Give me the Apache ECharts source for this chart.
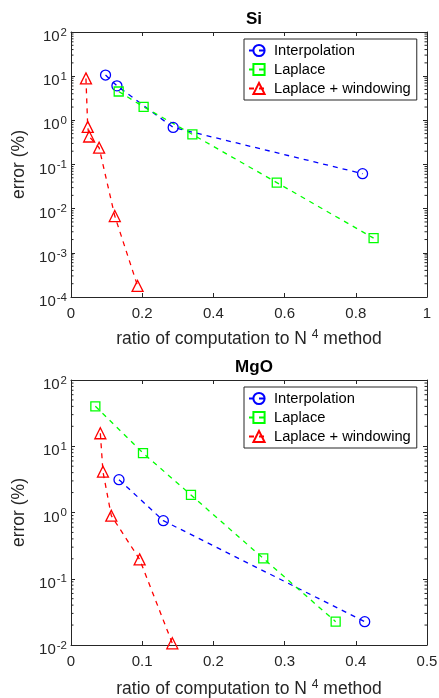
<!DOCTYPE html>
<html>
<head>
<meta charset="utf-8">
<script src="https://cdn.jsdelivr.net/npm/echarts@6/dist/echarts.min.js"></script>
<style>
  html, body { margin: 0; padding: 0; background: #fff; }
  #chart { width: 439px; height: 698px; }
</style>
</head>
<body>
<div id="chart"></div>
<script>
// Si panel
var siInterpX = [0.097, 0.129, 0.287, 0.819]
var siInterpY = [10.6, 6.05, 0.69, 0.062]
var siLapX = [0.134, 0.204, 0.341, 0.578, 0.850]
var siLapY = [4.5, 2.02, 0.48, 0.039, 0.00215]
var siWinX = [0.042, 0.047, 0.051, 0.079, 0.123, 0.187]
var siWinY = [8.9, 0.71, 0.43, 0.24, 0.0068, 0.000178]

// MgO panel
var mgoInterpX = [0.0674, 0.1297, 0.4125]
var mgoInterpY = [3.13, 0.753, 0.0225]
var mgoLapX = [0.0342, 0.1011, 0.1685, 0.270, 0.3717]
var mgoLapY = [40.1, 7.9, 1.84, 0.203, 0.0225]
var mgoWinX = [0.0412, 0.0449, 0.0566, 0.0964, 0.1423]
var mgoWinY = [15.7, 4.13, 0.895, 0.196, 0.0106]

var titles = ['Si', 'MgO']
var seriesNames = ['Interpolation', 'Laplace', 'Laplace + windowing']
var xMax = [1, 0.5]
var xStep = [0.2, 0.1]
var yMin = [1e-4, 1e-2]
var yMax = [1e2, 1e2]

var font = '"Liberation Sans", Helvetica, Arial, sans-serif'
var axisColor = '#262626'
var gridTops = [32, 380]
var nameGaps = [32, 34]

function zip(xs, ys) {
  return xs.map(function (x, i) { return [x, ys[i]] })
}

// log minor tick values 2..9 x 10^k
function minorTicks(lo, hi) {
  var out = []
  for (var k = Math.round(Math.log10(lo)); k < Math.round(Math.log10(hi)); k++) {
    for (var m = 2; m <= 9; m++) out.push(m * Math.pow(10, k))
  }
  return out
}

var chart = echarts.init(document.getElementById('chart'))

var grids = [], xAxes = [], yAxes = [], series = [], legends = [], titleOpts = []

var panels = [
  [zip(siInterpX, siInterpY), zip(siLapX, siLapY), zip(siWinX, siWinY)],
  [zip(mgoInterpX, mgoInterpY), zip(mgoLapX, mgoLapY), zip(mgoWinX, mgoWinY)]
]
var colors = ['#0000ff', '#00ff00', '#ff0000']
var symbols = ['circle', 'rect', 'triangle']
var symbolSizes = [10, 9, 11]

// tick labels: base pushed down a bit, exponent raised (like matlab)
var tickRich = {
  b: { fontSize: 15, lineHeight: 15, fontFamily: font, color: axisColor, verticalAlign: 'top', padding: [5, 0, 0, 0] },
  sup: { fontSize: 11.5, lineHeight: 12, fontFamily: font, color: axisColor, verticalAlign: 'top', padding: [2, 0, 0, 1] }
}
var nameRich = {
  b: { fontSize: 17.5, fontFamily: font, color: axisColor },
  sup: { fontSize: 12, fontFamily: font, color: axisColor, padding: [0, 0, 8, 0] }
}

for (var p = 0; p < 2; p++) {
  grids.push({ left: 71, top: gridTops[p], width: 356, height: 265, outerBoundsMode: 'none', containLabel: false })
  titleOpts.push({
    text: titles[p], left: 249, top: gridTops[p] - 26, textAlign: 'center',
    textStyle: { fontFamily: font, fontSize: 17, fontWeight: 'bold', color: '#000' }
  })
  var xi = p * 2, yi = p * 2
  xAxes.push({
    type: 'value', gridIndex: p, min: 0, max: xMax[p], interval: xStep[p],
    name: '{b|ratio of computation to N }{sup|4}{b| method}',
    nameLocation: 'middle', nameGap: nameGaps[p],
    nameTextStyle: { fontFamily: font, fontSize: 17.5, color: axisColor, rich: nameRich },
    axisLine: { show: true, lineStyle: { color: axisColor, width: 1 } },
    axisTick: { show: true, inside: true, length: 4, lineStyle: { color: axisColor } },
    axisLabel: { fontFamily: font, fontSize: 15, color: axisColor, margin: 9 },
    splitLine: { show: false }
  })
  xAxes.push({
    type: 'value', gridIndex: p, position: 'top', min: 0, max: xMax[p], interval: xStep[p],
    axisLine: { show: true, onZero: false, lineStyle: { color: axisColor, width: 1 } },
    axisTick: { show: true, inside: true, length: 4, lineStyle: { color: axisColor } },
    axisLabel: { show: false }, splitLine: { show: false }
  })
  yAxes.push({
    type: 'log', logBase: 10, gridIndex: p, min: yMin[p], max: yMax[p], interval: 1,
    name: 'error (%)', nameLocation: 'middle', nameGap: 40, nameRotate: 90,
    nameTextStyle: { fontFamily: font, fontSize: 17.5, color: axisColor },
    axisLine: { show: true, lineStyle: { color: axisColor, width: 1 } },
    axisTick: { show: true, inside: true, length: 4, lineStyle: { color: axisColor } },
    axisLabel: {
      margin: 4,
      formatter: function (v) { return '{b|10}{sup|' + Math.round(Math.log10(v)) + '}' },
      rich: tickRich
    },
    splitLine: { show: false }
  })
  yAxes.push({
    type: 'log', logBase: 10, gridIndex: p, position: 'right', min: yMin[p], max: yMax[p], interval: 1,
    axisLine: { show: true, onZero: false, lineStyle: { color: axisColor, width: 1 } },
    axisTick: { show: true, inside: true, length: 4, lineStyle: { color: axisColor } },
    axisLabel: { show: false }, splitLine: { show: false }
  })

  for (var s = 0; s < 3; s++) {
    series.push({
      name: seriesNames[s], type: 'line', xAxisIndex: xi, yAxisIndex: yi,
      data: panels[p][s],
      symbol: symbols[s], symbolSize: symbolSizes[s],
      lineStyle: { color: colors[s], width: 1.3, type: [5, 5] },
      itemStyle: { color: 'rgba(255,255,255,0)', borderColor: colors[s], borderWidth: 1.3 },
      emphasis: { disabled: true },
      z: 3
    })
  }

  // minor log ticks, left and right sides
  ;(function (xmax) {
    series.push({
      type: 'custom', xAxisIndex: xi, yAxisIndex: yi, silent: true,
      data: minorTicks(yMin[p], yMax[p]).map(function (v) { return [0, v] }),
      encode: { x: 0, y: 1 },
      renderItem: function (params, api) {
        var v = api.value(1)
        var l = api.coord([0, v]), r = api.coord([xmax, v])
        var st = { stroke: axisColor, lineWidth: 1 }
        return {
          type: 'group', children: [
            { type: 'line', shape: { x1: l[0], y1: l[1], x2: l[0] + 2.5, y2: l[1] }, style: st },
            { type: 'line', shape: { x1: r[0], y1: r[1], x2: r[0] - 2.5, y2: r[1] }, style: st }
          ]
        }
      }
    })
  })(xMax[p])

  legends.push({
    data: seriesNames, left: 244, top: gridTops[p] + 7,
    orient: 'vertical', itemWidth: 20, itemHeight: 14, itemGap: 4,
    padding: [4, 6, 4, 4], borderColor: axisColor, borderWidth: 1, borderRadius: 0,
    backgroundColor: '#fff', selectedMode: false,
    textStyle: { fontFamily: font, fontSize: 14.7, color: '#000' }
  })
}

var option = {
  animation: false,
  backgroundColor: '#fff',
  title: titleOpts,
  grid: grids,
  xAxis: xAxes,
  yAxis: yAxes,
  legend: legends,
  series: series
}

option && chart.setOption(option)
</script>
</body>
</html>
